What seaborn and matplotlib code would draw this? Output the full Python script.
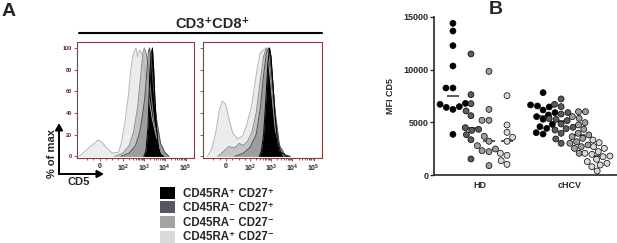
import numpy as np
import pandas as pd
import seaborn as sns
import matplotlib.pyplot as plt
from matplotlib.patches import Patch, FancyArrowPatch
from matplotlib.lines import Line2D

sns.set_style("ticks")
plt.rcParams['font.family'] = ['Liberation Sans', 'DejaVu Sans']
plt.rcParams['mathtext.fontset'] = 'custom'
plt.rcParams['mathtext.bf'] = 'Liberation Sans:bold'

subsets = ['CD45RA⁺ CD27⁺', 'CD45RA⁻ CD27⁺', 'CD45RA⁻ CD27⁻', 'CD45RA⁺ CD27⁻']
legend_colors = ['#000000', '#55595f', '#a3a3a3', '#d9d9d9']
dot_colors = ['#000000', '#5c5c5c', '#9e9e9e', '#d9d9d9']
groups = ['HD', 'cHCV']

# panel B values (MFI CD5)
hd_rapos_27pos = [14400, 13670, 12280, 10350, 8260, 8260, 6800, 6710, 6490, 6420, 6230, 3860]
hd_raneg_27pos = [11490, 7630, 6770, 6080, 5630, 4490, 4340, 4240, 3830, 3350, 1520]
hd_raneg_27neg = [9840, 6230, 5190, 5190, 3670, 3200, 2780, 2470, 2310, 2220, 890]
hd_rapos_27neg = [7530, 4750, 4050, 3580, 3200, 2060, 1870, 1360, 1010]
hcv_rapos_27pos = [7820, 6650, 6550, 6460, 6170, 5920, 5700, 5540, 5290, 4810, 4590, 4430, 4020, 3890]
hcv_raneg_27pos = [7220, 6710, 6490, 5920, 5790, 5350, 5280, 5160, 4840, 4530, 4400, 4270, 3960, 3420, 3010]
hcv_raneg_27neg = [6010, 6010, 5540, 5380, 4970, 4750, 4340, 3960, 3800, 3640, 3480, 3160, 3010, 2850, 2690, 2530, 2060]
hcv_rapos_27neg = [3320, 3070, 2690, 2530, 2220, 2060, 1960, 1800, 1740, 1490, 1270, 1110, 950, 790, 380]

# panel A histograms, x in logicle display units (0 label ~0.88, 10^2 = 2 ... 10^5 = 5)
l_light_u = [-0.1, 0.2, 0.5, 0.8, 1.0, 1.2, 1.5, 1.8, 1.95, 2.1, 2.25, 2.35, 2.45, 2.55, 2.62, 2.7, 2.8, 2.9, 3.0, 3.2, 3.4, 3.6, 3.8, 4.0, 4.2]
l_light_y = [0, 5, 10, 15, 13, 8, 3, 4, 15, 32, 55, 75, 90, 97, 100, 92, 98, 95, 85, 60, 35, 18, 8, 3, 0]
l_mid_u = [1.6, 2.0, 2.3, 2.5, 2.7, 2.85, 2.95, 3.02, 3.1, 3.2, 3.35, 3.5, 3.7, 3.9, 4.1]
l_mid_y = [0, 3, 10, 22, 45, 75, 95, 100, 96, 85, 55, 30, 12, 4, 0]
l_dark_u = [1.9, 2.3, 2.6, 2.8, 2.95, 3.05, 3.15, 3.22, 3.27, 3.35, 3.45, 3.6, 3.8, 4.0, 4.2]
l_dark_y = [0, 3, 10, 22, 40, 55, 80, 97, 100, 90, 65, 35, 12, 4, 0]
l_black_u = [3.0, 3.1, 3.2, 3.28, 3.35, 3.41, 3.47, 3.53, 3.6, 3.7, 3.8, 3.95]
l_black_y = [0, 5, 28, 75, 95, 100, 80, 52, 27, 8, 2, 0]

r_light_u = [0.0, 0.2, 0.4, 0.57, 0.71, 0.87, 1.03, 1.19, 1.43, 1.67, 1.84, 2.08, 2.32, 2.48, 2.63, 2.79, 2.9, 3.05, 3.2, 3.43, 3.7]
r_light_y = [0, 6, 22, 43, 51, 48, 34, 22, 16, 19, 28, 46, 77, 95, 98, 100, 85, 55, 25, 5, 0]
r_mid_u = [0.5, 0.8, 1.0, 1.3, 1.5, 1.7, 1.9, 2.1, 2.3, 2.5, 2.65, 2.78, 2.9, 3.0, 3.15, 3.35, 3.6]
r_mid_y = [0, 5, 9, 8, 12, 10, 14, 22, 40, 70, 92, 100, 95, 75, 40, 10, 0]
r_dark_u = [1.3, 1.7, 2.0, 2.3, 2.5, 2.65, 2.78, 2.88, 2.95, 3.05, 3.2, 3.4, 3.7]
r_dark_y = [0, 3, 8, 20, 45, 75, 95, 100, 96, 75, 40, 10, 0]
r_black_u = [2.45, 2.55, 2.65, 2.75, 2.85, 2.93, 3.0, 3.08, 3.18, 3.3, 3.45, 3.7, 3.9]
r_black_y = [0, 5, 20, 50, 85, 100, 92, 70, 40, 15, 4, 1, 0]

hist_ticks = [0.88, 2, 3, 4, 5]
hist_ticklabels = ['0', r'$\mathbf{10^2}$', r'$\mathbf{10^3}$', r'$\mathbf{10^4}$', r'$\mathbf{10^5}$']
frame_col = '#7a4242'

fig = plt.figure(figsize=(6.17, 2.43), dpi=100)
W, H = 617, 243


def box(x0, y0, x1, y1):
    return [x0 / W, 1 - y1 / H, (x1 - x0) / W, (y1 - y0) / H]


def draw_hist(ax, curves, show_y):
    fills = ['#ececec', '#c4c4c4', '#9d9d9d', '#000000']
    edges = ['#b4b4b4', '#8a8a8a', '#505050', '#000000']
    for (u, y), fc, ec in zip(curves, fills, edges):
        ax.fill_between(u, y, color=fc, lw=0)
        sns.lineplot(x=u, y=y, color=ec, lw=0.7, ax=ax)
    ax.set_xlim(-0.2, 5.4)
    ax.set_ylim(-1.5, 105.5)
    ax.set_xticks(hist_ticks)
    ax.set_xticklabels(hist_ticklabels, fontsize=5, fontweight='bold')
    minor = [0.28, 0.58, 1.18, 1.48, 1.78]
    for d in [2, 3, 4]:
        minor += [d + np.log10(k) for k in range(2, 10)]
    ax.set_xticks(minor, minor=True)
    ax.set_yticks([0, 20, 40, 60, 80, 100])
    if show_y:
        ax.set_yticklabels(['0', '20', '40', '60', '80', '100'], fontsize=4,
                           color='#5a2626', fontweight='bold')
    else:
        ax.set_yticklabels([])
    ax.tick_params(which='both', color=frame_col, width=0.6, length=2, pad=1.5)
    ax.tick_params(which='minor', length=1.2)
    for s in ax.spines.values():
        s.set_color(frame_col)
        s.set_linewidth(0.8)
    ax.set_xlabel('')
    ax.set_ylabel('')


ax1 = fig.add_axes(box(77, 42, 194, 158))
draw_hist(ax1, [(l_light_u, l_light_y), (l_mid_u, l_mid_y), (l_dark_u, l_dark_y), (l_black_u, l_black_y)], True)
ax2 = fig.add_axes(box(203, 42, 322, 158))
draw_hist(ax2, [(r_light_u, r_light_y), (r_mid_u, r_mid_y), (r_dark_u, r_dark_y), (r_black_u, r_black_y)], False)

fig.text(2 / W, 1 - 12 / H, 'A', fontsize=14, fontweight='bold', va='center')
fig.text(489 / W, 1 - 10 / H, 'B', fontsize=14, fontweight='bold', va='center')
fig.text(212 / W, 1 - 24 / H, 'CD3⁺CD8⁺', fontsize=10.5, fontweight='bold', ha='center', va='center')
fig.add_artist(Line2D([79 / W, 322 / W], [1 - 33 / H, 1 - 33 / H], color='black', lw=1.5))

# axis arrows
for end in [(59, 123), (104, 174)]:
    fig.add_artist(FancyArrowPatch((59 / W, 1 - 174 / H), (end[0] / W, 1 - end[1] / H),
                                   transform=fig.transFigure, arrowstyle='-|>,head_length=4,head_width=2.2',
                                   lw=1.4, color='black', shrinkA=0, shrinkB=0))
fig.text(52 / W, 1 - 153 / H, '% of max', rotation=90, fontsize=8, fontweight='bold', ha='center', va='center')
fig.text(79 / W, 1 - 182 / H, 'CD5', fontsize=8, fontweight='bold', ha='center', va='center')

handles = [Patch(facecolor=c, edgecolor='none') for c in legend_colors]
fig.legend(handles, subsets, loc='upper left', bbox_to_anchor=(154 / W, 1 - 181 / H),
           frameon=False, handlelength=1.3, handleheight=1.2, labelspacing=0.16,
           handletextpad=0.7, borderpad=0, prop={'size': 8.3, 'weight': 'bold'})

# panel B
rows = []
for grp, series in [('HD', [hd_rapos_27pos, hd_raneg_27pos, hd_raneg_27neg, hd_rapos_27neg]),
                    ('cHCV', [hcv_rapos_27pos, hcv_raneg_27pos, hcv_raneg_27neg, hcv_rapos_27neg])]:
    for name, vals in zip(subsets, series):
        for v in vals:
            rows.append({'group': grp, 'subset': name, 'mfi': v})
df = pd.DataFrame(rows)

ax3 = fig.add_axes(box(434, 17, 617, 175))
sns.swarmplot(data=df, x='group', y='mfi', hue='subset', order=groups, hue_order=subsets,
              dodge=True, palette=dot_colors, size=4.3, edgecolor='black', linewidth=0.5,
              legend=False, ax=ax3)
sns.boxplot(data=df, x='group', y='mfi', hue='subset', order=groups, hue_order=subsets,
            dodge=True, showbox=False, showcaps=False, showfliers=False, gap=0.35,
            whiskerprops={'visible': False}, boxprops={'visible': False},
            medianprops={'color': '#303030', 'linewidth': 1.1, 'visible': True},
            legend=False, ax=ax3)
ax3.set_xlim(-0.51, 1.52)
ax3.set_ylim(0, 15000)
ax3.set_yticks([0, 5000, 10000, 15000])
ax3.set_yticklabels(['0', '5000', '10000', '15000'], fontsize=6.5, fontweight='bold')
ax3.set_xticks([0, 1])
ax3.set_xticklabels(groups, fontsize=6.5, fontweight='bold')
ax3.tick_params(axis='y', length=3, width=1, pad=1)
ax3.tick_params(axis='x', length=0, pad=4)
ax3.set_xlabel('')
ax3.set_ylabel('MFI CD5', fontsize=6.5, fontweight='bold', labelpad=6)
sns.despine(ax=ax3)
ax3.spines['left'].set_linewidth(1.2)
ax3.spines['bottom'].set_linewidth(1.2)

fig.savefig('out.png', dpi=100)
